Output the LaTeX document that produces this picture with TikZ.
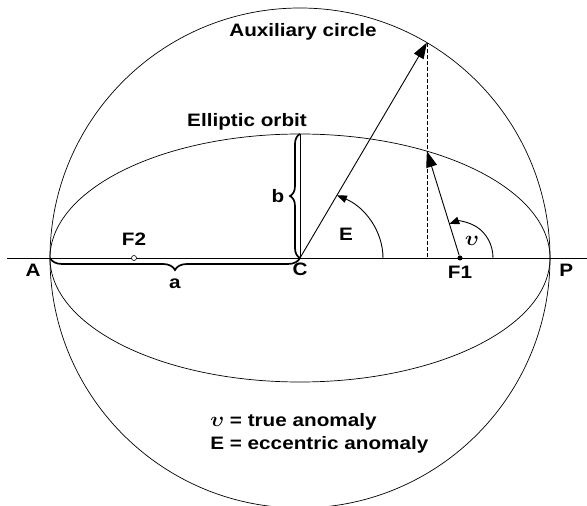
\documentclass[tikz,border=0pt]{standalone}
\usepackage{amsmath,amssymb}
\usepackage{fontspec}
\setmainfont{Liberation Sans}[FakeStretch=1.15]
\usepackage{tikz}
\usetikzlibrary{arrows.meta,positioning,calc,decorations.pathreplacing}
\newcommand{\nusym}{{\fontsize{22}{24}\selectfont$\boldsymbol{\upsilon}$}}

\begin{document}
\begin{tikzpicture}[x=1pt,y=1pt,line width=.7pt,font=\fontsize{18}{22}\selectfont\bfseries]
\tikzstyle{lbl}=[inner sep=0pt]
\tikzstyle{bigtip}=[-{Triangle[length=16pt,width=11pt]}]
\tikzstyle{arctip}=[-{Triangle[length=10pt,width=7.5pt]}]
\tikzstyle{curly}=[decorate,line width=1.7pt]
\useasboundingbox (-300,-248) rectangle (287,258);
% axis points
\coordinate (C) at (0,0);
\coordinate (A) at (-250,0);
\coordinate (P) at (250,0);
\coordinate (L) at (-293,0);
\coordinate (R) at (287,0);
\coordinate (Bt) at (0,124);
% eccentric anomaly 59.5 deg
\coordinate (Q) at (59.5:250);
\coordinate (S) at ({250*cos(59.5)},{124*sin(59.5)});
\coordinate (Qf) at ({250*cos(59.5)},0);
\draw (C) circle[radius=250];
\draw (C) ellipse[x radius=250,y radius=124];
\draw[line width=.9pt] (L)--(R);
\node[circle,fill,inner sep=0pt,minimum size=5pt] (F1) at (160,0) {};
\node[circle,draw,fill=white,inner sep=0pt,minimum size=5pt,line width=.6pt] (F2) at (-166,0) {};
\draw (C)--(Bt);
\draw[dash pattern=on 4pt off 2pt] (Q)--(Qf);
\draw[bigtip,line width=.9pt] (C)--(Q);
\draw[bigtip,line width=.9pt] (F1)--(S);
% angle marks
\draw[arctip,line width=.9pt] (83,0) arc[start angle=0,end angle=63.6,x radius=83,y radius=70];
\draw[arctip,line width=.9pt] ($(F1)+(33,0)$) arc[start angle=0,end angle=109,x radius=33,y radius=36];
% braces
\draw[curly,decoration={brace,mirror,amplitude=12pt}] (A)--(C) node[lbl,midway,below=20pt] (la) {a};
\draw[curly,decoration={brace,amplitude=10pt}] (C)--(Bt) node[lbl,midway,left=15pt] (lb) {b};
% labels
\node[lbl,below left=6pt and 9pt of A] (lA) {A};
\node[lbl,below=5pt of C] (lC) {C};
\node[lbl,below=4.5pt of F1] (lF1) {F1};
\node[lbl,below right=6pt and 9pt of P] (lP) {P};
\node[lbl,above=9.5pt of F2] (lF2) {F2};
\node[lbl] (lE) at (46,24) {E};
\node[lbl] (lnu) at (172,17) {\nusym};
\node[lbl,anchor=base] (aux) at (3,221) {Auxiliary circle};
\node[lbl,anchor=base] (orb) at (-53,131) {Elliptic orbit};
\node[lbl,anchor=base west] (true) at (-90,-168) {\nusym{} = true anomaly};
\node[lbl,anchor=base west] (ecc) at ([yshift=-23pt]true.base west) {E = eccentric anomaly};
\end{tikzpicture}
\end{document}
